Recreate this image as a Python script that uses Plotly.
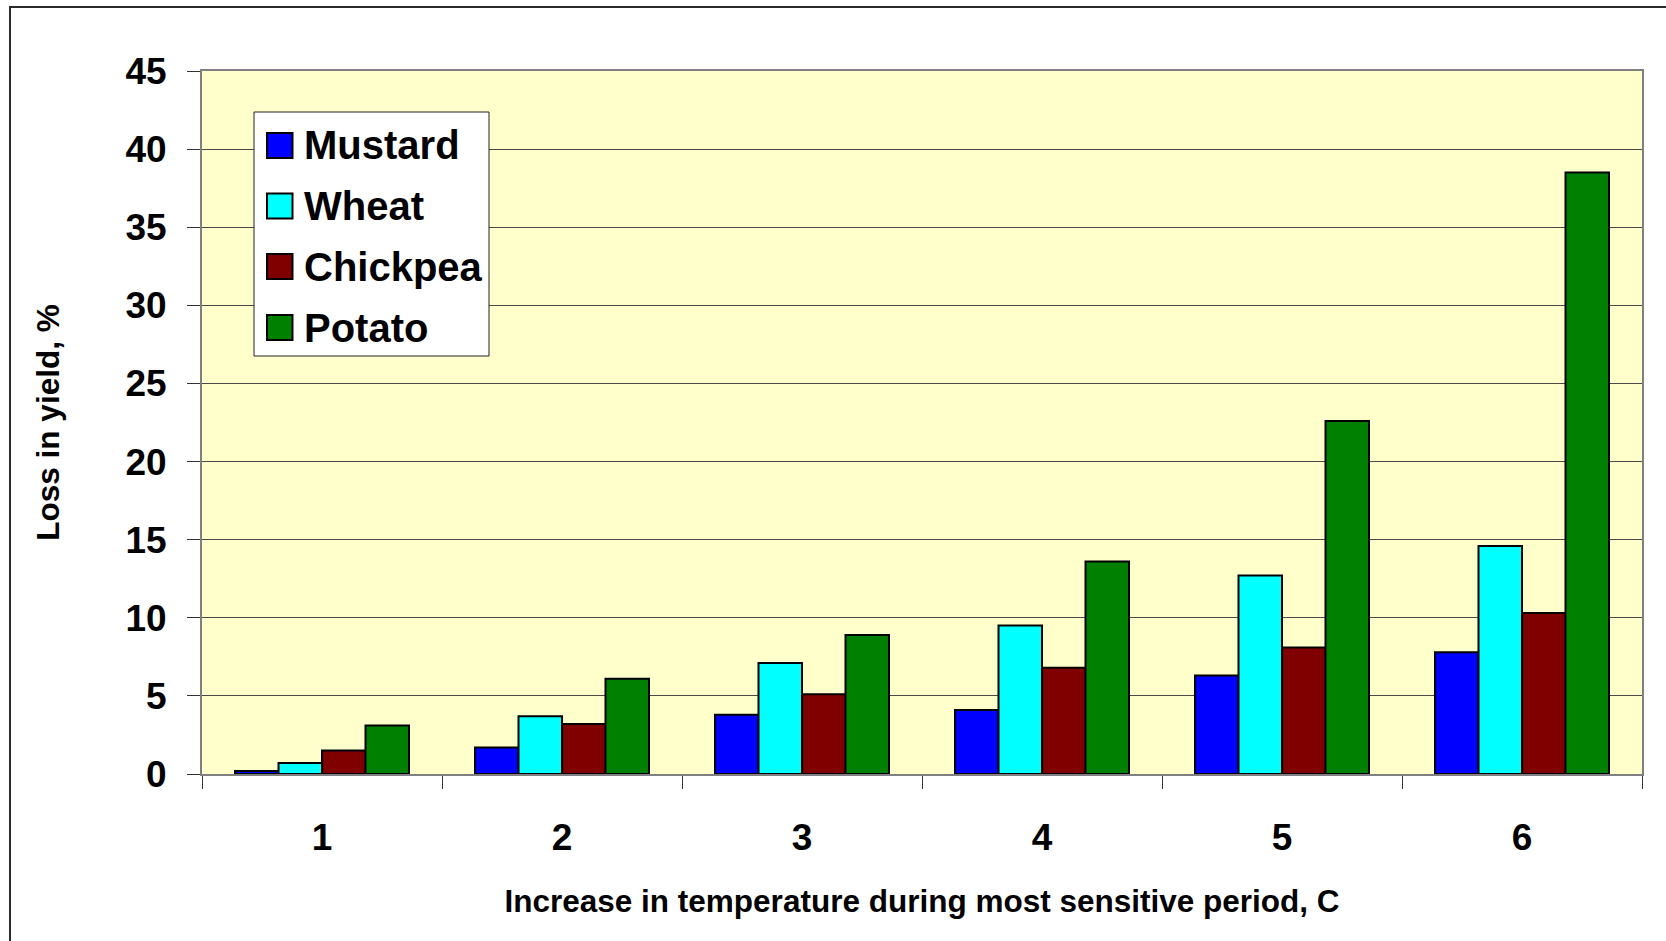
import plotly.graph_objects as go

# Temperature increase (degrees C) during the most sensitive period
temp_increase = ["1", "2", "3", "4", "5", "6"]

# Loss in yield (%) per crop
mustard = [0.2, 1.7, 3.8, 4.1, 6.3, 7.8]
wheat = [0.7, 3.7, 7.1, 9.5, 12.7, 14.6]
chickpea = [1.5, 3.2, 5.1, 6.8, 8.1, 10.3]
potato = [3.1, 6.1, 8.9, 13.6, 22.6, 38.5]

crop_names = ["Mustard", "Wheat", "Chickpea", "Potato"]
crop_values = [mustard, wheat, chickpea, potato]
crop_colors = ["#0000FF", "#00FFFF", "#800000", "#008000"]

W, H = 1666, 941
PLOT_L, PLOT_R, PLOT_T, PLOT_B = 202, 1642, 71, 774

FONT = "Liberation Sans, Arial, sans-serif"


def px_x(x):
    return (x - PLOT_L) / (PLOT_R - PLOT_L)


def px_y(y):
    return (PLOT_B - y) / (PLOT_B - PLOT_T)


fig = go.Figure()
for name, vals, col in zip(crop_names, crop_values, crop_colors):
    fig.add_trace(go.Bar(
        name=name, x=temp_increase, y=vals,
        marker=dict(color=col, line=dict(color="black", width=2)),
        showlegend=False,
    ))

shapes = []
annotations = []

# Outer chart frame (right and bottom edges run off the page)
shapes.append(dict(type="rect", xref="paper", yref="paper",
                   x0=px_x(10), x1=px_x(W + 20), y0=px_y(H + 20), y1=px_y(7),
                   line=dict(color="#2a2a2a", width=2), fillcolor="rgba(0,0,0,0)",
                   layer="above"))

# Legend box
shapes.append(dict(type="rect", xref="paper", yref="paper",
                   x0=px_x(254), x1=px_x(489), y0=px_y(356), y1=px_y(112),
                   line=dict(color="#222222", width=1), fillcolor="white",
                   layer="above"))
row_y = [145.5, 206, 266.5, 327.5]
for name, col, cy in zip(crop_names, crop_colors, row_y):
    shapes.append(dict(type="rect", xref="paper", yref="paper",
                       x0=px_x(267), x1=px_x(292.5),
                       y0=px_y(cy + 12.5), y1=px_y(cy - 12.5),
                       line=dict(color="black", width=2), fillcolor=col,
                       layer="above"))
    annotations.append(dict(xref="paper", yref="paper", x=px_x(302), y=px_y(cy),
                            text=name, showarrow=False, xanchor="left",
                            yanchor="middle",
                            font=dict(family=FONT, size=40, color="black",
                                      weight="bold")))

fig.update_layout(
    width=W, height=H,
    margin=dict(l=PLOT_L, r=W - PLOT_R, t=PLOT_T, b=H - PLOT_B, pad=0),
    paper_bgcolor="white",
    plot_bgcolor="#FFFFCC",
    barmode="group",
    bargap=0.275,
    bargroupgap=0,
    shapes=shapes,
    annotations=annotations,
    font=dict(family=FONT, color="black"),
)

fig.update_xaxes(
    type="category",
    showline=True, linecolor="#808080", linewidth=2, mirror=True,
    ticks="outside", ticklen=13, tickwidth=1, tickcolor="#333333",
    tickson="boundaries",
    tickfont=dict(family=FONT, size=37, color="black", weight="bold"),
    ticklabelstandoff=30,
    showgrid=False,
    title=dict(text="Increase in temperature during most sensitive period, C",
               font=dict(family=FONT, size=31.5, color="black", weight="bold"),
               standoff=33),
)

fig.update_yaxes(
    range=[0, 45], dtick=5, tick0=0,
    showline=True, linecolor="#808080", linewidth=2, mirror=True,
    ticks="outside", ticklen=13, tickwidth=1, tickcolor="#333333",
    tickfont=dict(family=FONT, size=37, color="black", weight="bold"),
    ticklabelstandoff=13,
    showgrid=True, gridcolor="#4a4a4a", gridwidth=1,
    zeroline=False,
    title=dict(text="Loss in yield, %",
               font=dict(family=FONT, size=31.5, color="black", weight="bold"),
               standoff=56),
)

fig.write_html("out.html")
